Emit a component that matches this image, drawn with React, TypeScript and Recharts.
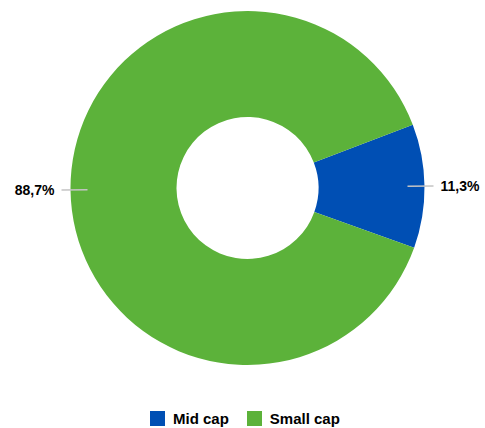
import React from 'react';
import { PieChart, Pie, Cell, Legend } from 'recharts';

const categories = ['Mid cap', 'Small cap'];
const shares = [11.3, 88.7];
const colors = ['#004fb4', '#5cb23a'];

const data = categories.map((name, i) => ({ name, value: shares[i] }));

const RADIAN = Math.PI / 180;

const renderLabel = (props: any) => {
  const { cx, cy, midAngle, value } = props;
  const cos = Math.cos(-midAngle * RADIAN);
  const sin = Math.sin(-midAngle * RADIAN);
  const x1 = cx + 160 * cos;
  const y1 = cy + 160 * sin;
  const x2 = cx + 186 * cos;
  const y2 = cy + 186 * sin;
  const tx = cx + 193 * cos;
  const ty = cy + 193 * sin;
  return (
    <g>
      <line x1={x1} y1={y1} x2={x2} y2={y2} stroke="#c4c4c4" strokeWidth={1.5} />
      <text
        x={tx}
        y={ty}
        textAnchor={cos >= 0 ? 'start' : 'end'}
        dominantBaseline="central"
        fill="#000"
        fontSize={14}
        fontWeight="bold"
        fontFamily="'Liberation Sans', Arial, sans-serif"
      >
        {value.toFixed(1).replace('.', ',') + '%'}
      </text>
    </g>
  );
};

const renderLegend = () => (
  <div
    style={{
      display: 'flex',
      justifyContent: 'flex-start',
      paddingLeft: 150,
      alignItems: 'center',
      fontFamily: "'Liberation Sans', Arial, sans-serif",
      fontSize: 15,
      fontWeight: 'bold',
      color: '#000',
    }}
  >
    {categories.map((c, i) => (
      <div key={c} style={{ display: 'flex', alignItems: 'center', marginRight: 18 }}>
        <span style={{ width: 15, height: 15, background: colors[i], marginRight: 8, display: 'inline-block' }} />
        <span>{c}</span>
      </div>
    ))}
  </div>
);

export default function App() {
  return (
    <div style={{ position: 'absolute', left: 0, top: 0, width: 485, height: 428, background: '#fff' }}>
      <PieChart width={485} height={428} margin={{ top: 0, right: 0, bottom: 0, left: 0 }}>
        <Pie
          data={data}
          dataKey="value"
          nameKey="name"
          cx={247.5}
          cy={188}
          innerRadius={71}
          outerRadius={177}
          startAngle={-19.7}
          endAngle={340.3}
          stroke="none"
          label={renderLabel}
          labelLine={false}
          isAnimationActive={false}
        >
          {data.map((d, i) => (
            <Cell key={d.name} fill={colors[i]} />
          ))}
        </Pie>
        <Legend
          content={renderLegend}
          wrapperStyle={{ left: 0, top: 410, width: 485 }}
        />
      </PieChart>
    </div>
  );
}
